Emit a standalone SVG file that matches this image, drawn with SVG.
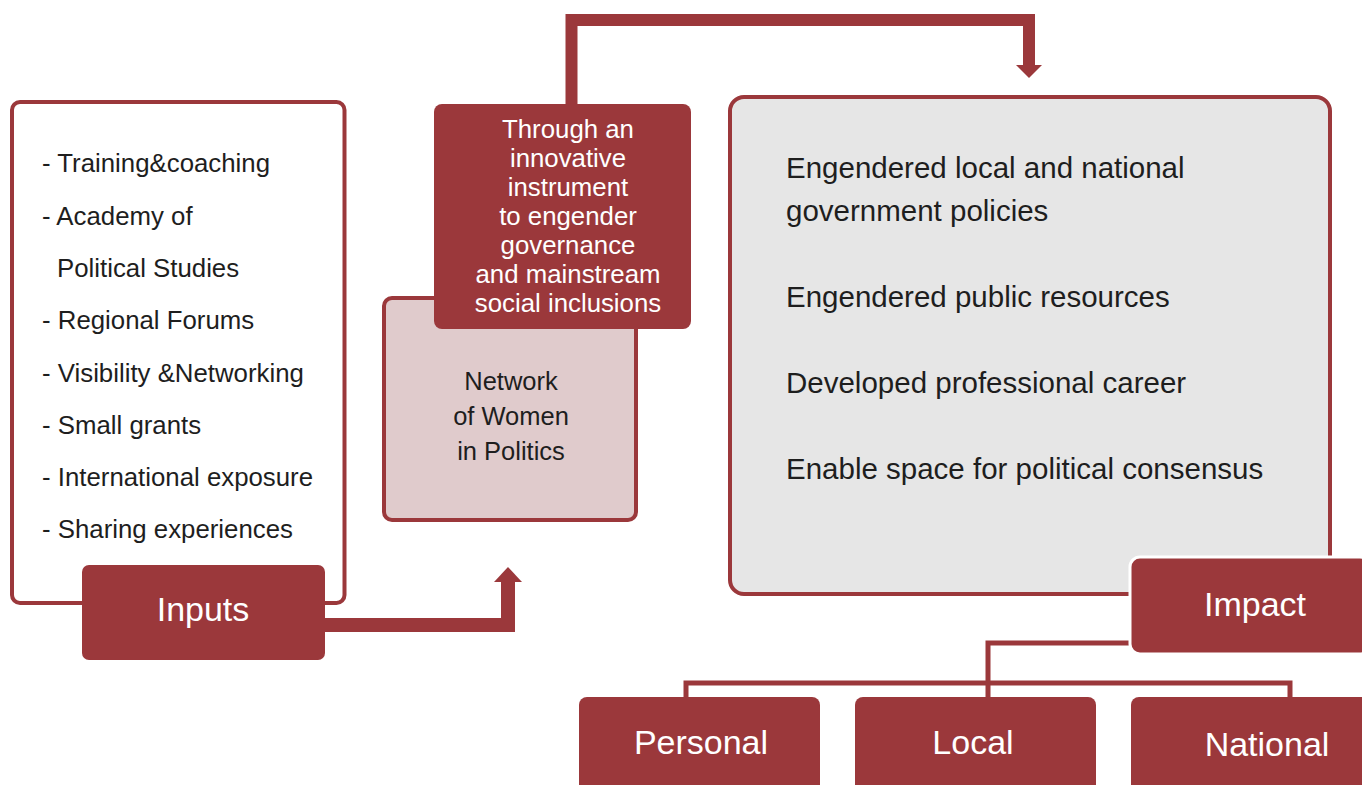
<svg xmlns="http://www.w3.org/2000/svg" width="1362" height="785" viewBox="0 0 1362 785">
<defs>
<style>
.t{font-family:"Liberation Sans",Arial,sans-serif;fill:#1e1e1e}
.w{font-family:"Liberation Sans",Arial,sans-serif;fill:#ffffff}
.red{fill:#9b383b}
.ln{stroke:#9b383b;fill:none}
</style>
</defs>
<rect width="1362" height="785" fill="#ffffff"/>
<g id="connectors">
<path class="ln" d="M571.5,104 V20 H1029 V66" stroke-width="12"/>
<polygon class="red" points="1016,65 1042,65 1029,78"/>
<path class="ln" d="M325,625 H508 V580" stroke-width="14"/>
<polygon class="red" points="494,582 522,582 508,567"/>
<path class="ln" d="M1132,643 H988 V698" stroke-width="5"/>
<path class="ln" d="M686,698 V683 H1290 V698" stroke-width="5"/>
</g>
<g id="inputs-list">
<rect x="12" y="102" width="332.5" height="501" rx="8" fill="#ffffff" stroke="#9b383b" stroke-width="4"/>
<g class="t" font-size="25.8">
<text x="42" y="172">- Training&amp;coaching</text>
<text x="42" y="225">- Academy of</text>
<text x="57" y="277">Political Studies</text>
<text x="42" y="329">- Regional Forums</text>
<text x="42" y="382">- Visibility &amp;Networking</text>
<text x="42" y="434">- Small grants</text>
<text x="42" y="486">- International exposure</text>
<text x="42" y="538">- Sharing experiences</text>
</g>
</g>
<g id="inputs">
<rect class="red" x="82" y="565" width="243" height="95" rx="7"/>
<text class="w" x="203" y="621" font-size="34" text-anchor="middle">Inputs</text>
</g>
<g id="network">
<rect x="384" y="298" width="252" height="222" rx="8" fill="#e0cbcc" stroke="#9b383b" stroke-width="4"/>
<g class="t" font-size="25.5" text-anchor="middle">
<text x="511" y="390">Network</text>
<text x="511" y="425">of Women</text>
<text x="511" y="460">in Politics</text>
</g>
</g>
<g id="through">
<rect class="red" x="434" y="104" width="257" height="225" rx="8"/>
<g class="w" font-size="25.8" text-anchor="middle">
<text x="568" y="138">Through an</text>
<text x="568" y="167">innovative</text>
<text x="568" y="196">instrument</text>
<text x="568" y="225">to engender</text>
<text x="568" y="254">governance</text>
<text x="568" y="283">and mainstream</text>
<text x="568" y="312">social inclusions</text>
</g>
</g>
<g id="outcomes">
<rect x="730" y="97" width="600" height="497" rx="14" fill="#e6e6e6" stroke="#9b383b" stroke-width="4"/>
<g class="t" font-size="29.5">
<text x="786" y="178">Engendered local and national</text>
<text x="786" y="221">government policies</text>
<text x="786" y="307">Engendered public resources</text>
<text x="786" y="393">Developed professional career</text>
<text x="786" y="479">Enable space for political consensus</text>
</g>
</g>
<g id="impact">
<rect class="red" x="1130" y="557" width="240" height="97" rx="10" stroke="#ffffff" stroke-width="3"/>
<text class="w" x="1255" y="616" font-size="34" text-anchor="middle">Impact</text>
</g>
<g id="personal">
<rect class="red" x="579" y="697" width="241" height="100" rx="8"/>
<text class="w" x="701" y="754" font-size="34" text-anchor="middle">Personal</text>
</g>
<g id="local">
<rect class="red" x="855" y="697" width="241" height="100" rx="8"/>
<text class="w" x="973" y="754" font-size="34" text-anchor="middle">Local</text>
</g>
<g id="national">
<rect class="red" x="1131" y="697" width="241" height="100" rx="8"/>
<text class="w" x="1267" y="756" font-size="34" text-anchor="middle">National</text>
</g>
</svg>
